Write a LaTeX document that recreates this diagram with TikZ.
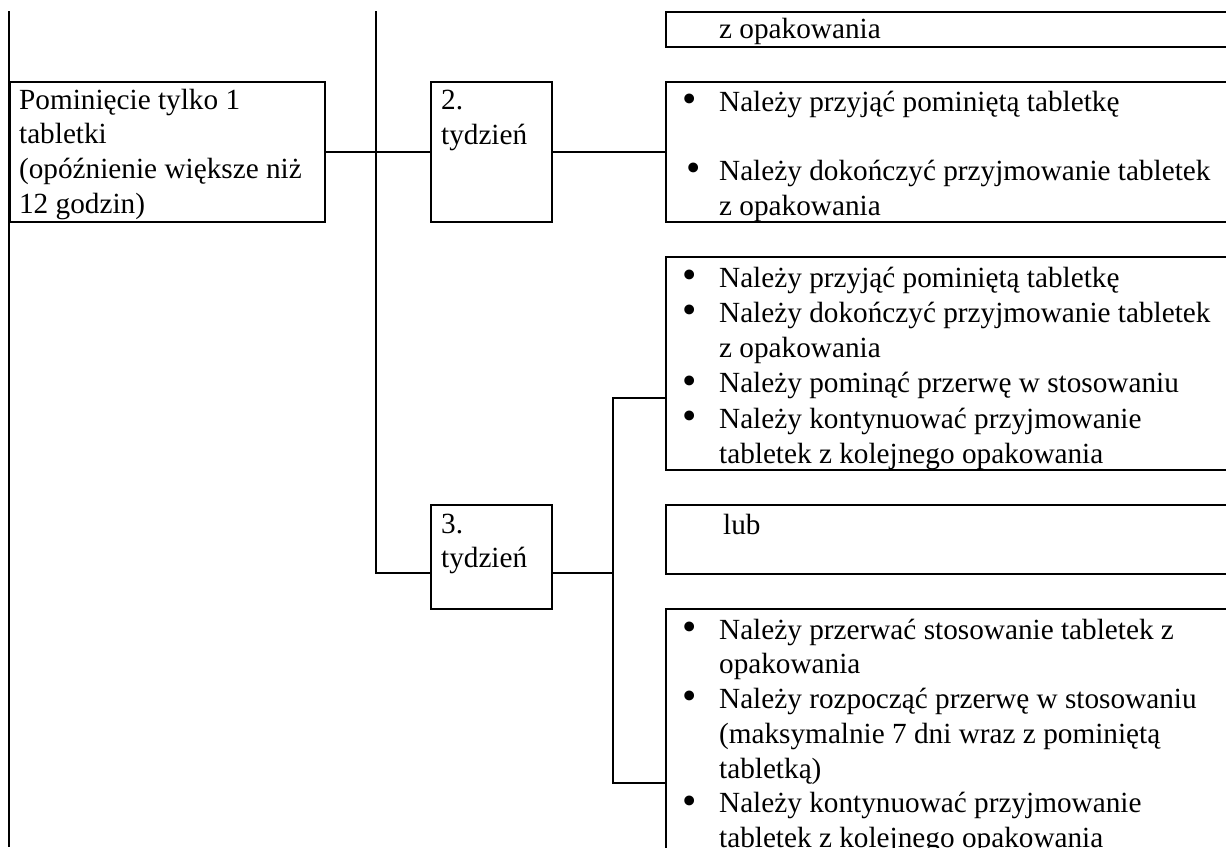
\documentclass[tikz,border=0pt]{standalone}
\usepackage{fontspec}
\setmainfont{Liberation Serif}
\usetikzlibrary{positioning}
\newcommand{\kropka}{\smash{\raisebox{-0.5pt}{\scalebox{1.4}{\textbullet}}}}

\begin{document}
\begin{tikzpicture}[x=0.4pt,y=-0.4pt,line width=0.9pt,
	box/.style = {draw, rectangle, inner sep=0pt, anchor=north west},
	txt/.style = {inner sep=0pt, font=\fontsize{11.7}{13.9}\selectfont}]
	\clip (0,0) rectangle (1226,847);
	\node[box,minimum width=126pt,minimum height=56pt] at (9,81) (main) {};
	\node[box,minimum width=48.4pt,minimum height=56pt] at (430,81) (w2) {};
	\node[box,minimum width=48.4pt,minimum height=41.6pt] at (430,504) (w3) {};
	\node[box,minimum width=232pt,minimum height=14pt] at (665,11) (b1) {};
	\node[box,minimum width=232pt,minimum height=56pt] at (665,81) (b2) {};
	\node[box,minimum width=232pt,minimum height=85.2pt] at (665,256) (b3) {};
	\node[box,minimum width=232pt,minimum height=27.6pt] at (665,504) (b4) {};
	\node[box,minimum width=232pt,minimum height=110pt] at (665,608) (b5) {};
	\node[txt,below right=1.1pt and 3.6pt of main.north west] (t-main) {\begin{tabular}{@{}l@{}}
		Pominięcie tylko 1\\ tabletki\\ (opóźnienie większe niż\\ 12 godzin)\end{tabular}};
	\node[txt,below right=1.2pt and 4pt of w2.north west] (t-w2) {\begin{tabular}{@{}l@{}}2.\\ tydzień\end{tabular}};
	\node[txt,below right=1.5pt and 4pt of w3.north west] (t-w3) {\begin{tabular}{@{}l@{}}3.\\ tydzień\end{tabular}};
	\node[txt,below right=0.7pt and 21.2pt of b1.north west] (t-b1) {\begin{tabular}{@{}l@{}}z opakowania\end{tabular}};
	\node[txt,below right=1.9pt and 6.6pt of b2.north west] (t-b2) {\begin{tabular}{@{}p{14.6pt}@{}l@{}}
		\kropka & Należy przyjąć pominiętą tabletkę\\
		& \\
		\hspace{1.6pt}\kropka & Należy dokończyć przyjmowanie tabletek\\
		& z opakowania\end{tabular}};
	\node[txt,font=\fontsize{11.7}{14.1}\selectfont,below right=2.1pt and 6.6pt of b3.north west] (t-b3) {\begin{tabular}{@{}p{14.6pt}@{}l@{}}
		\kropka & Należy przyjąć pominiętą tabletkę\\
		\kropka & Należy dokończyć przyjmowanie tabletek\\
		& z opakowania\\
		\kropka & Należy pominąć przerwę w stosowaniu\\
		\kropka & Należy kontynuować przyjmowanie\\
		& tabletek z kolejnego opakowania\end{tabular}};
	\node[txt,below right=1.9pt and 22.8pt of b4.north west] (t-b4) {\begin{tabular}{@{}l@{}}lub\end{tabular}};
	\node[txt,below right=2.3pt and 6.6pt of b5.north west] (t-b5) {\begin{tabular}{@{}p{14.6pt}@{}l@{}}
		\kropka & Należy przerwać stosowanie tabletek z\\
		& opakowania\\
		\kropka & Należy rozpocząć przerwę w stosowaniu\\
		& (maksymalnie 7 dni wraz z pominiętą\\
		& tabletką)\\
		\kropka & Należy kontynuować przyjmowanie\\
		& tabletek z kolejnego opakowania\end{tabular}};
	\coordinate (left top) at (9,11);
	\coordinate (left end) at (9,847);
	\coordinate (trunk top) at (376,11);
	\coordinate (trunk end) at (376,573);
	\coordinate (fork) at (613,573);
	\coordinate (fork top) at (613,398);
	\coordinate (fork end) at (613,783);
	\draw (left top) -- (left end);
	\draw (trunk top) -- (trunk end) -- (trunk end -| w3.west);
	\draw (main.east) -- (w2.west);
	\draw (w2.east) -- (b2.west);
	\draw (w3.east |- fork) -- (fork);
	\draw (b3.west |- fork top) -- (fork top) -- (fork end) -- (b5.west |- fork end);
\end{tikzpicture}
\end{document}
